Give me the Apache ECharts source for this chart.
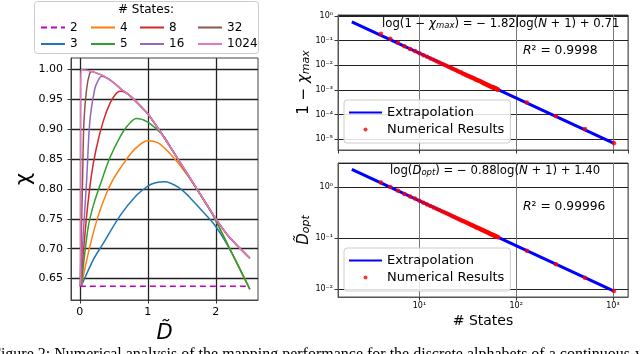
<!DOCTYPE html>
<html><head><meta charset="utf-8">
<script src="https://cdn.jsdelivr.net/npm/echarts@6/dist/echarts.min.js"></script>
<style>html,body{margin:0;padding:0;background:#fff}#c{width:640px;height:354px}</style>
</head><body><div id="c"></div>
<script>
// ---------- left panel: chi vs D~ for several numbers of states ----------
const stateNames = ['2', '3', '4', '5', '8', '16', '32', '1024'];
const curve2 = [[0, 0.637], [2.5, 0.637]];
const curve3 = [[0.02,0.637],[0.2,0.682],[0.34,0.708],[0.59,0.755],[0.83,0.789],[1.0,0.805],[1.1,0.810],[1.25,0.812],[1.46,0.802],[1.6,0.788],[1.76,0.768],[1.98,0.740],[2.2,0.700],[2.5,0.632]];
const curve4 = [[0.02,0.637],[0.15,0.705],[0.27,0.755],[0.4,0.795],[0.49,0.816],[0.59,0.834],[0.8,0.866],[1.0,0.881],[1.17,0.876],[1.39,0.851],[1.6,0.820],[1.8,0.786],[1.95,0.758],[2.2,0.701],[2.5,0.632]];
const curve5 = [[0.02,0.637],[0.12,0.734],[0.2,0.773],[0.32,0.814],[0.44,0.852],[0.6,0.889],[0.7,0.906],[0.83,0.918],[1.0,0.912],[1.17,0.896],[1.25,0.886],[1.4,0.857],[1.6,0.821],[1.8,0.785],[1.95,0.758],[2.2,0.701],[2.5,0.632]];
const curve8 = [[0.01,0.637],[0.1,0.755],[0.17,0.823],[0.24,0.867],[0.34,0.912],[0.44,0.943],[0.52,0.958],[0.59,0.9636],[0.68,0.961],[0.76,0.954],[0.9,0.938],[1.0,0.926],[1.2,0.893],[1.4,0.858],[1.6,0.822],[1.8,0.786],[2.0,0.750],[2.2,0.719],[2.5,0.684]];
const curve16 = [[0.01,0.637],[0.05,0.725],[0.1,0.814],[0.146,0.912],[0.22,0.968],[0.27,0.982],[0.32,0.989],[0.4,0.986],[0.5,0.978],[0.6,0.968],[0.76,0.954],[0.9,0.938],[1.0,0.926],[1.2,0.893],[1.4,0.858],[1.6,0.822],[1.8,0.786],[2.0,0.750],[2.2,0.719],[2.5,0.684]];
const curve32 = [[0.005,0.637],[0.04,0.814],[0.06,0.912],[0.1,0.968],[0.146,0.994],[0.18,0.997],[0.25,0.994],[0.34,0.990],[0.5,0.978],[0.6,0.968],[0.76,0.954],[0.9,0.938],[1.0,0.926],[1.2,0.893],[1.4,0.858],[1.6,0.822],[1.8,0.786],[2.0,0.750],[2.2,0.719],[2.5,0.684]];
const curve1024 = [[0.01,0.637],[0.012,0.95],[0.015,1.0],[0.1,0.999],[0.2,0.996],[0.34,0.990],[0.5,0.978],[0.6,0.968],[0.76,0.954],[0.9,0.938],[1.0,0.926],[1.2,0.893],[1.4,0.858],[1.6,0.822],[1.8,0.786],[2.0,0.750],[2.2,0.719],[2.5,0.684]];
const leftXTicks = [0, 1, 2];
const leftYTicks = [0.65, 0.70, 0.75, 0.80, 0.85, 0.90, 0.95, 1.00];

// ---------- right panels: numerical results vs number of states ----------
const statesX = [4,5,6,7,8,9,10,11,12,13,
  14,15,16,17,18,19,20,21,22,23,
  24,25,26,27,28,29,30,31,32,33,
  34,35,36,37,38,39,40,41,42,43,
  44,45,46,47,48,49,50,51,52,53,
  54,55,56,57,58,59,60,61,62,63,
  64,65,129,257,513,1025];
const chiErr = [0.19,0.119,0.082,0.0589,0.0462,0.038,0.0308,0.0259,0.0221,0.0191,
  0.0167,0.0147,0.0131,0.0117,0.0106,0.0096,0.0087,0.0080,0.0073,0.0068,
  0.0063,0.0058,0.0054,0.0051,0.0047,0.0044,0.0042,0.0039,0.0037,0.0035,
  0.0033,0.0032,0.0030,0.0029,0.0027,0.0026,0.0025,0.0024,0.0023,0.0022,
  0.0021,0.0020,0.0019,0.0018,0.0018,0.0017,0.0016,0.0016,0.0015,0.0015,
  0.0014,0.0014,0.0013,0.0013,0.0013,0.0012,0.0012,0.0012,0.0011,0.0011,
  0.00105,0.00102,0.00031,0.000089,0.000026,0.0000069];
const dOpt = [1.22,1.0,0.84,0.732,0.651,0.595,0.535,0.492,0.455,0.424,
  0.398,0.374,0.354,0.335,0.319,0.304,0.291,0.278,0.267,0.257,
  0.247,0.239,0.231,0.223,0.216,0.210,0.203,0.198,0.192,0.187,
  0.182,0.178,0.173,0.169,0.165,0.161,0.158,0.155,0.151,0.148,
  0.145,0.142,0.140,0.137,0.134,0.132,0.130,0.128,0.125,0.123,
  0.121,0.119,0.117,0.116,0.114,0.112,0.111,0.109,0.107,0.106,
  0.104,0.103,0.0563,0.0307,0.0167,0.0091];
const extrapChi = [[2, 0.58], [1025, 0.0000068]];
const extrapD = [[2, 2.22], [1025, 0.0091]];

const FONT = 'DejaVu Sans';
const stateColors = ['#bf00bf','#1f77b4','#ff7f0e','#2ca02c','#d62728','#9467bd','#8c564b','#e377c2'];
const curves = [curve2, curve3, curve4, curve5, curve8, curve16, curve32, curve1024];

const supMap = {'-':'⁻','0':'⁰','1':'¹','2':'²','3':'³','4':'⁴','5':'⁵','6':'⁶','7':'⁷','8':'⁸','9':'⁹'};
function logLabel(v) {
  const e = Math.log10(v), r = Math.round(e);
  if (Math.abs(e - r) > 1e-6) return '';
  return '10' + String(r).split('').map(c => supMap[c]).join('');
}

const chart = echarts.init(document.getElementById('c'), null, {renderer: 'canvas'});

const leftSeries = stateNames.map((n, i) => ({
  name: n, type: 'line', xAxisIndex: 0, yAxisIndex: 0,
  data: curves[i], symbol: 'none', smooth: i === 0 ? false : 0.3,
  lineStyle: {color: stateColors[i], width: 1.5, type: i === 0 ? [6, 4] : 'solid'},
  itemStyle: {color: stateColors[i]}, z: i === 0 ? 3 : 2
}));

// legend positions (layout only)
const legCols = [40, 90, 139, 197];
const legRows = [21.5, 38];
const legendOrder = ['2', '4', '8', '32', '3', '5', '16', '1024'];
const hiddenSymbol = {opacity: 0, color: 'rgba(0,0,0,0)', borderWidth: 0};
const leftLegends = legendOrder.map((n, k) => ({
  data: [{name: n, itemStyle: hiddenSymbol}], left: legCols[k % 4], top: legRows[Math.floor(k / 4)], padding: 0,
  itemWidth: 24, itemHeight: 10, selectedMode: false,
  itemStyle: hiddenSymbol,
  textStyle: {fontFamily: FONT, fontSize: 12, color: '#000'}
}));

const rightLegendBase = {
  orient: 'vertical', left: 344, padding: [6, 6, 7, 4], itemWidth: 33, itemHeight: 4, itemGap: 4,
  backgroundColor: 'rgba(255,255,255,0.85)', borderColor: '#cccccc', borderWidth: 1, borderRadius: 3,
  selectedMode: false, textStyle: {fontFamily: FONT, fontSize: 13, color: '#000'},
  data: [{name: 'Extrapolation', itemStyle: hiddenSymbol}, {name: 'Numerical Results', icon: 'circle'}]
};

const logXAxis = (gi, showLabels, name) => ({
  type: 'log', gridIndex: gi, min: 1.44, max: 1430, logBase: 10,
  axisLine: {show: true, lineStyle: {color: '#555', width: 1}},
  axisTick: {show: true, length: 3.5, lineStyle: {color: '#333'}},
  axisLabel: {show: showLabels, formatter: logLabel, fontFamily: FONT, fontSize: 8, color: '#000', margin: 5, showMinLabel: false, showMaxLabel: false},
  splitLine: {show: true, lineStyle: {color: '#777', width: 1}},
  minorTick: {show: false}, minorSplitLine: {show: false},
  name: name, nameLocation: 'middle', nameGap: 17,
  nameTextStyle: {fontFamily: FONT, fontSize: 14, color: '#000'}
});
const logYAxis = (gi, min, max, name, rich) => ({
  type: 'log', gridIndex: gi, min: min, max: max, logBase: 10,
  axisLine: {show: true, lineStyle: {color: '#555', width: 1}},
  axisTick: {show: true, length: 3.5, lineStyle: {color: '#333'}},
  axisLabel: {formatter: logLabel, fontFamily: FONT, fontSize: 8, color: '#000', margin: 5, showMinLabel: false, showMaxLabel: false},
  splitLine: {show: true, lineStyle: {color: '#222', width: 1}},
  name: name, nameLocation: 'middle', nameGap: 21, nameRotate: 90,
  nameTextStyle: {fontFamily: FONT, fontSize: 15, color: '#000', rich: rich}
});

const nameRich = {
  ii: {fontFamily: FONT, fontSize: 15, fontStyle: 'italic', color: '#000'},
  sub: {fontFamily: FONT, fontSize: 11, fontStyle: 'italic', color: '#000', verticalAlign: 'bottom', lineHeight: 9}
};
const eqRich = {
  ii: {fontFamily: FONT, fontSize: 11.7, fontStyle: 'italic', fill: '#000'},
  sub: {fontFamily: FONT, fontSize: 8.5, fontStyle: 'italic', fill: '#000', verticalAlign: 'bottom', lineHeight: 8}
};
const r2Rich = {
  ii: {fontFamily: FONT, fontSize: 12.3, fontStyle: 'italic', fill: '#000'}
};

const option = {
  animation: false,
  backgroundColor: '#fff',
  grid: [
    {left: 71, top: 58, width: 187, height: 242, show: true, borderColor: '#444', borderWidth: 1, backgroundColor: 'transparent', outerBoundsMode: 'none', containLabel: false},
    {left: 338, top: 15, width: 290, height: 135, show: true, borderColor: '#555', borderWidth: 1, backgroundColor: 'transparent', outerBoundsMode: 'none', containLabel: false},
    {left: 338, top: 163, width: 290, height: 134, show: true, borderColor: '#555', borderWidth: 1, backgroundColor: 'transparent', outerBoundsMode: 'none', containLabel: false}
  ],
  xAxis: [
    {type: 'value', gridIndex: 0, min: -0.13, max: 2.62,
     axisLine: {show: true, onZero: false, lineStyle: {color: '#444', width: 1}},
     axisTick: {show: true, length: 3.5, customValues: leftXTicks, lineStyle: {color: '#333'}},
     axisLabel: {customValues: leftXTicks, fontFamily: FONT, fontSize: 11, color: '#000', margin: 7},
     splitLine: {show: true, lineStyle: {color: '#222', width: 1.3}},
     name: 'D\u0303', nameLocation: 'middle', nameGap: 17,
     nameTextStyle: {fontFamily: FONT, fontSize: 21, fontStyle: 'italic', color: '#000'}},
    logXAxis(1, false, ''),
    logXAxis(2, true, '# States')
  ],
  yAxis: [
    {type: 'value', gridIndex: 0, min: 0.614, max: 1.0195,
     axisLine: {show: true, onZero: false, lineStyle: {color: '#444', width: 1}},
     axisTick: {show: true, length: 3.5, customValues: leftYTicks, lineStyle: {color: '#333'}},
     axisLabel: {customValues: leftYTicks, formatter: v => v.toFixed(2), fontFamily: FONT, fontSize: 11, color: '#000', margin: 8},
     splitLine: {show: true, lineStyle: {color: '#222', width: 1.3}},
     name: 'χ', nameLocation: 'middle', nameGap: 36, nameRotate: 90,
     nameTextStyle: {fontFamily: FONT, fontSize: 21, color: '#000'}},
    logYAxis(1, 0.0000037, 1.1, '1 − {ii|χ}{sub|max}', nameRich),
    logYAxis(2, 0.00697, 2.95, '{ii|D\u0303}{sub|opt}', nameRich)
  ],
  legend: leftLegends.concat([
    Object.assign({}, rightLegendBase, {top: 100}),
    Object.assign({}, rightLegendBase, {top: 248})
  ]),
  series: leftSeries.concat([
    {name: 'Extrapolation', type: 'line', xAxisIndex: 1, yAxisIndex: 1, data: extrapChi, symbol: 'none',
     lineStyle: {color: '#0000ff', width: 3}, itemStyle: {color: '#0000ff'}, z: 2},
    {name: 'Numerical Results', type: 'scatter', xAxisIndex: 1, yAxisIndex: 1,
     data: statesX.map((x, i) => [x, chiErr[i]]), symbolSize: 4.5, itemStyle: {color: '#ff0000'}, z: 3},
    {name: 'Extrapolation', type: 'line', xAxisIndex: 2, yAxisIndex: 2, data: extrapD, symbol: 'none',
     lineStyle: {color: '#0000ff', width: 3}, itemStyle: {color: '#0000ff'}, z: 2},
    {name: 'Numerical Results', type: 'scatter', xAxisIndex: 2, yAxisIndex: 2,
     data: statesX.map((x, i) => [x, dOpt[i]]), symbolSize: 4.5, itemStyle: {color: '#ff0000'}, z: 3}
  ]),
  graphic: [
    {type: 'rect', left: 34, top: 1, shape: {width: 224, height: 52, r: 3}, z: 0, silent: true,
     style: {fill: 'rgba(255,255,255,0.85)', stroke: '#cccccc', lineWidth: 1}},
    {type: 'text', left: 118, top: 4, z: 10, style: {text: '# States:', fontFamily: FONT, fontSize: 12, fill: '#000'}},
    {type: 'text', left: 382, top: 18, z: 10, style: {
      text: 'log(1 − {ii|χ}{sub|max}) = − 1.82log({ii|N} + 1) + 0.71',
      fontFamily: FONT, fontSize: 11.7, fill: '#000', rich: eqRich}},
    {type: 'text', left: 523, top: 45, z: 10, style: {
      text: '{ii|R}² = 0.9998', fontFamily: FONT, fontSize: 12.3, fill: '#000', rich: r2Rich}},
    {type: 'text', left: 390, top: 165, z: 10, style: {
      text: 'log({ii|D\u0303}{sub|opt}) = − 0.88log({ii|N} + 1) + 1.40',
      fontFamily: FONT, fontSize: 11.7, fill: '#000', rich: eqRich}},
    {type: 'text', left: 523, top: 201, z: 10, style: {
      text: '{ii|R}² = 0.99996', fontFamily: FONT, fontSize: 12.3, fill: '#000', rich: r2Rich}},
    {type: 'text', left: -8, top: 347, z: 10, style: {
      text: 'Figure 2: Numerical analysis of the mapping performance for the discrete alphabets of a continuous-variable displacement channel',
      fontFamily: 'Liberation Serif', fontSize: 16, fill: '#000'}}
  ]
};
chart.setOption(option);
</script></body></html>
